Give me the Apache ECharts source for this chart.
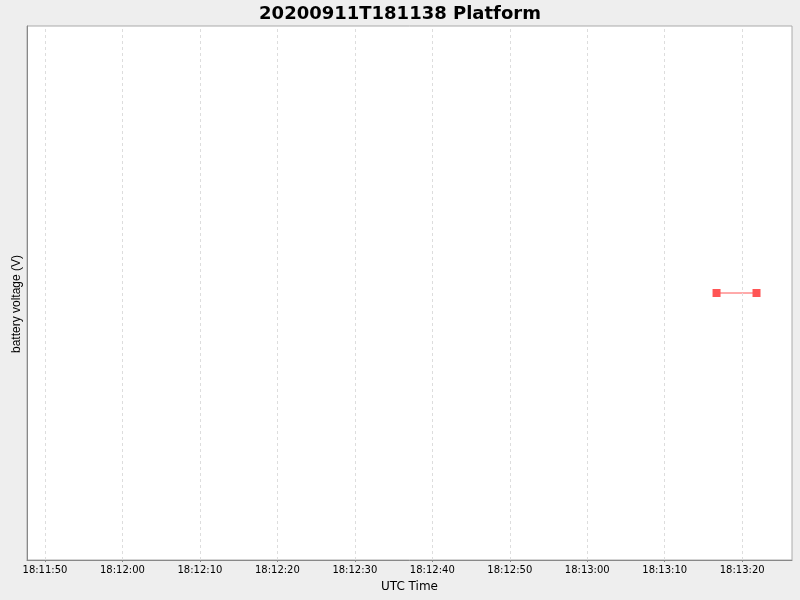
<!DOCTYPE html>
<html><head><meta charset="utf-8">
<script src="https://cdn.jsdelivr.net/npm/echarts@6/dist/echarts.min.js"></script>
<style>html,body{margin:0;padding:0;background:#eeeeee}#c{width:800px;height:600px}</style>
</head><body><div id="c"></div>
<script>
const titleText = '20200911T181138 Platform';
const xAxisName = 'UTC Time';
const yAxisName = 'battery voltage (V)';
const tickLabels = ['18:11:50','18:12:00','18:12:10','18:12:20','18:12:30','18:12:40','18:12:50','18:13:00','18:13:10','18:13:20'];
const pointTimes = ['18:13:16.69', '18:13:21.85'];
const voltages = [12.0, 12.0];
const xRange = ['18:11:47.68', '18:13:26.43'];
const yMin = 11.0, yMax = 13.0;

// seconds of day (UTC) on a value axis
function toSec(s) {
  const p = s.split(':');
  return (+p[0]) * 3600 + (+p[1]) * 60 + parseFloat(p[2]);
}
const tickValues = tickLabels.map(toSec);
function fmt(v) {
  const i = tickValues.findIndex(t => Math.abs(t - v) < 1e-6);
  if (i >= 0) return tickLabels[i];
  const s = Math.round(v);
  const pad = n => String(n).padStart(2, '0');
  return pad(Math.floor(s / 3600)) + ':' + pad(Math.floor(s % 3600 / 60)) + ':' + pad(s % 60);
}

const chart = echarts.init(document.getElementById('c'));
chart.setOption({
  backgroundColor: '#eeeeee',
  animation: false,
  title: { text: titleText, left: 'center', top: 0,
    textStyle: { fontFamily: 'DejaVu Sans', fontWeight: 'bold', fontSize: 18, color: '#000' } },
  grid: { left: 27, right: 8, top: 26, bottom: 40, outerBoundsMode: 'none', containLabel: false,
    show: true, backgroundColor: '#fff', borderColor: '#aaaaaa', borderWidth: 1 },
  xAxis: {
    type: 'value', min: toSec(xRange[0]), max: toSec(xRange[1]), scale: true,
    name: xAxisName, nameLocation: 'middle', nameGap: 21,
    nameTextStyle: { fontFamily: 'DejaVu Sans', fontSize: 12, color: '#000' },
    axisLine: { lineStyle: { color: '#888888' } },
    axisTick: { show: true, length: 2, customValues: tickValues, lineStyle: { color: '#888888' } },
    axisLabel: { customValues: tickValues, formatter: fmt,
      fontFamily: 'DejaVu Sans', fontSize: 10, color: '#000', margin: 5, hideOverlap: false },
    splitLine: { show: false }
  },
  yAxis: {
    type: 'value', min: yMin, max: yMax,
    name: yAxisName, nameLocation: 'middle', nameGap: 4,
    nameTextStyle: { fontFamily: 'Liberation Sans', fontSize: 12, color: '#000', padding: [0, 22, 0, 0] },
    axisLine: { show: true, lineStyle: { color: '#888888' } },
    axisTick: { show: false }, axisLabel: { show: false }, splitLine: { show: false }
  },
  series: [{
    type: 'line', data: pointTimes.map((t, i) => [toSec(t), voltages[i]]),
    symbol: 'rect', symbolSize: 8, showSymbol: true,
    itemStyle: { color: '#ff5555' }, lineStyle: { color: '#ff5555', width: 1 },
    markLine: {
      silent: true, symbol: ['none', 'none'], label: { show: false },
      lineStyle: { color: '#dddddd', type: [3, 3], width: 1 },
      emphasis: { disabled: true },
      data: tickValues.map(v => ({ xAxis: v }))
    },
    z: 3
  }]
});
</script></body></html>
